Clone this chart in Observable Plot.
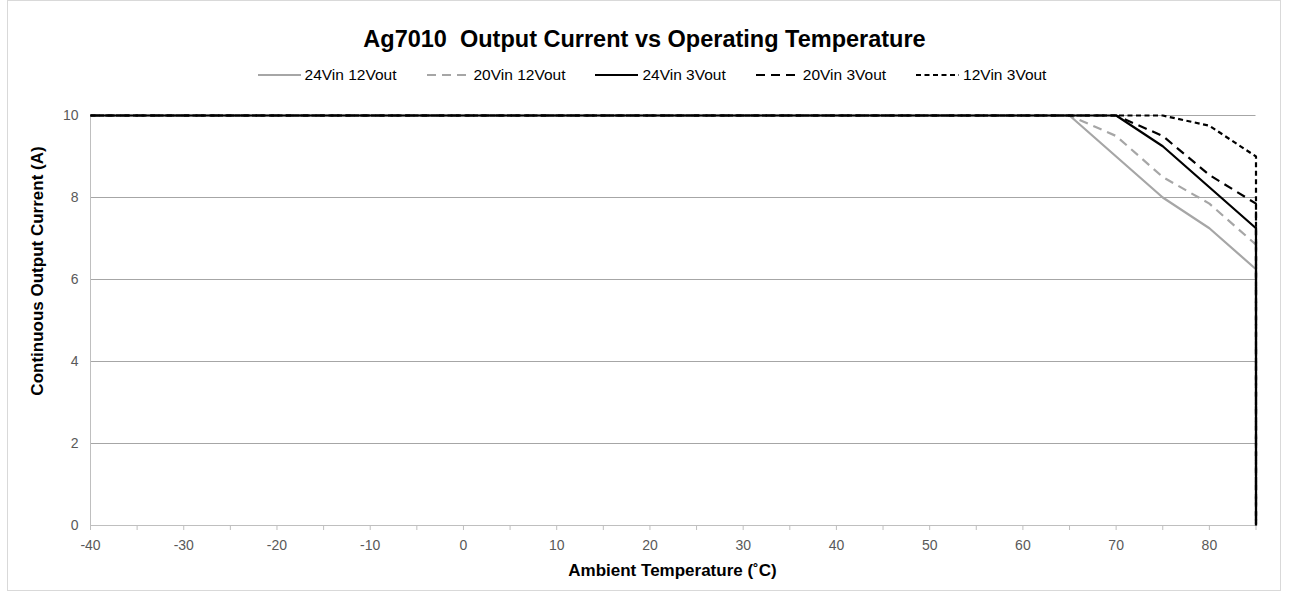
<!DOCTYPE html>
<html>
<head>
<meta charset="utf-8">
<script src="https://cdn.jsdelivr.net/npm/d3@7"></script>
<script src="https://cdn.jsdelivr.net/npm/@observablehq/plot@0.6"></script>
<style>
  html, body { margin: 0; padding: 0; background: #fff; }
  #chart { position: relative; width: 1289px; height: 594px; font-family: "Liberation Sans", Arial, sans-serif; overflow: hidden; }
  #frame { position: absolute; left: 7px; top: 0px; width: 1274px; height: 591px; border: 1px solid #d9d9d9; box-sizing: border-box; }
  #title { position: absolute; left: 0; width: 1289px; top: 26px; text-align: center; font-weight: bold; font-size: 23.5px; color: #000; }
  #legend { position: absolute; left: 0; width: 1304px; top: 66px; display: flex; justify-content: center; gap: 30px; font-size: 15.5px; color: #000; }
  .item { display: flex; align-items: center; gap: 4px; }
  #ylabel { position: absolute; left: 38px; top: 271px; transform: translate(-50%, -50%) rotate(-90deg); white-space: nowrap; font-weight: bold; font-size: 17px; color: #000; }
  #xlabel { position: absolute; left: 0; width: 1345px; top: 561px; text-align: center; font-weight: bold; font-size: 17px; color: #000; }
  #plot { position: absolute; left: 0; top: 95px; }
</style>
</head>
<body>
<div id="chart">
  <div id="frame"></div>
  <div id="title">Ag7010&nbsp; Output Current vs Operating Temperature</div>
  <div id="legend"></div>
  <div id="ylabel">Continuous Output Current (A)</div>
  <div id="xlabel">Ambient Temperature (˚C)</div>
  <div id="plot"></div>
</div>
<script>
// Temperature points (°C); last point is the cut-off to 0 A at 85 °C
const temps = [-40, 65, 70, 75, 80, 85, 85];
const seriesNames = ["24Vin 12Vout", "20Vin 12Vout", "24Vin 3Vout", "20Vin 3Vout", "12Vin 3Vout"];
const v24in12out = [10, 10, 9.0, 8.0, 7.25, 6.25, 0];
const v20in12out = [10, 10, 9.5, 8.5, 7.85, 6.85, 0];
const v24in3out  = [10, 10, 10, 9.25, 8.25, 7.25, 0];
const v20in3out  = [10, 10, 10, 9.5, 8.55, 7.85, 0];
const v12in3out  = [10, 10, 10, 10, 9.75, 9.0, 0];
const xTicks = [-40, -30, -20, -10, 0, 10, 20, 30, 40, 50, 60, 70, 80];
const xMinorTicks = [-40, -35, -30, -25, -20, -15, -10, -5, 0, 5, 10, 15, 20, 25, 30, 35, 40, 45, 50, 55, 60, 65, 70, 75, 80, 85];
const yTicks = [0, 2, 4, 6, 8, 10];

const styles = {
  "24Vin 12Vout": {stroke: "#a6a6a6", dash: null},
  "20Vin 12Vout": {stroke: "#a6a6a6", dash: "9,6"},
  "24Vin 3Vout":  {stroke: "#000000", dash: null},
  "20Vin 3Vout":  {stroke: "#000000", dash: "9,6"},
  "12Vin 3Vout":  {stroke: "#000000", dash: "5,3.5"}
};
const valuesByName = {
  "24Vin 12Vout": v24in12out,
  "20Vin 12Vout": v20in12out,
  "24Vin 3Vout": v24in3out,
  "20Vin 3Vout": v20in3out,
  "12Vin 3Vout": v12in3out
};
const rows = name => temps.map((t, i) => ({t, v: valuesByName[name][i], name}));

const lineMarks = seriesNames.map(name => Plot.line(rows(name), {
  x: "t", y: "v",
  stroke: styles[name].stroke,
  strokeWidth: 2.2,
  strokeDasharray: styles[name].dash,
  strokeLinejoin: "miter",
  strokeLinecap: "butt"
}));

const plot = Plot.plot({
  width: 1289,
  height: 499,
  marginTop: 20,
  marginBottom: 69,
  marginLeft: 90,
  marginRight: 33.5,
  style: {fontFamily: "'Liberation Sans', Arial, sans-serif", background: "transparent"},
  x: {domain: [-40, 85]},
  y: {domain: [0, 10]},
  marks: [
    Plot.gridY(yTicks.filter(d => d > 0), {stroke: "#a6a6a6", strokeOpacity: 1, strokeWidth: 1}),
    Plot.ruleY([0], {stroke: "#bfbfbf", strokeWidth: 1}),
    Plot.ruleX([-40], {stroke: "#bfbfbf", strokeWidth: 1}),
    Plot.axisX(xMinorTicks, {tickSize: 5, text: null, stroke: "#bfbfbf", label: null}),
    Plot.axisX(xTicks, {tickSize: 0, tickPadding: 15, fontSize: 14, fill: "#595959", label: null, tickFormat: d => String(d)}),
    Plot.axisY(yTicks, {tickSize: 0, tickPadding: 12, fontSize: 14, fill: "#595959", label: null, tickFormat: d => String(d)}),
    ...lineMarks
  ]
});
document.getElementById("plot").appendChild(plot);

// Legend
const legend = document.getElementById("legend");
for (const name of seriesNames) {
  const item = document.createElement("div");
  item.className = "item";
  const s = styles[name];
  item.innerHTML = `<svg width="43" height="10"><line x1="0" x2="43" y1="5" y2="5" stroke="${s.stroke}" stroke-width="2.2" ${s.dash ? `stroke-dasharray="${s.dash}"` : ""}/></svg><span>${name}</span>`;
  legend.appendChild(item);
}
</script>
</body>
</html>
